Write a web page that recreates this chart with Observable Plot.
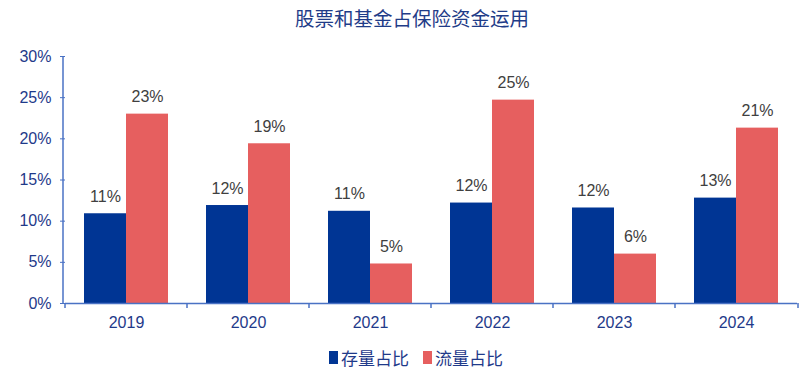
<!DOCTYPE html>
<html><head><meta charset="utf-8">
<script src="https://cdn.jsdelivr.net/npm/d3@7"></script>
<script src="https://cdn.jsdelivr.net/npm/@observablehq/plot@0.6"></script>
<style>
body{margin:0;background:#fff;}
#wrap{width:806px;height:378px;position:relative;overflow:hidden;background:#fff;}
#title{height:36px;line-height:36px;text-align:center;padding-left:18px;font-family:"Noto Sans CJK SC",sans-serif;font-size:19.5px;color:#1f3c88;}
#legend{height:42px;display:flex;justify-content:center;align-items:center;padding-left:26px;font-family:"Noto Sans CJK SC",sans-serif;font-size:17px;color:#1f3a8a;}
#legend .item{display:flex;align-items:center;margin:0 7px;}
#legend .sw{width:9px;height:13px;margin-right:3px;}
</style></head>
<body>
<div id="wrap">
<div id="title">股票和基金占保险资金运用</div>
<div id="chart"></div>
<div id="legend"></div>
</div>
<script>
const years = ["2019", "2020", "2021", "2022", "2023", "2024"];
const series = ["存量占比", "流量占比"];
const stock = [10.9, 11.9, 11.2, 12.2, 11.6, 12.8];
const flow = [23.0, 19.4, 4.8, 24.7, 6.0, 21.3];
const colors = ["#003594", "#e65f5f"];
const yTicks = [0, 5, 10, 15, 20, 25, 30];

const data = years.flatMap((y, i) => [
  {year: y, series: series[0], value: stock[i]},
  {year: y, series: series[1], value: flow[i]}
]);

const axisBlue = "#4a72c4";
const textBlue = "#1f3a8a";
const latin = '"Liberation Sans", Arial, sans-serif';

const plot = Plot.plot({
  width: 806, height: 300,
  marginTop: 20, marginBottom: 33, marginLeft: 63, marginRight: 8,
  style: {fontFamily: latin, fontSize: "16px", background: "white", color: textBlue},
  fx: {domain: years, paddingInner: 0, paddingOuter: 0, label: null, axis: null},
  x: {domain: series, paddingInner: 0, paddingOuter: 0.42, axis: null},
  y: {domain: [0, 30], axis: null},
  color: {domain: series, range: colors},
  marks: [
    Plot.barY(data, {fx: "year", x: "series", y: "value", fill: "series"}),
    Plot.text(data, {fx: "year", x: "series", y: "value", text: d => Math.round(d.value) + "%",
      dy: -17, fill: "#404040", fontSize: 16, fontFamily: latin}),
    Plot.axisY({ticks: yTicks, tickFormat: d => d + "%", tickSize: 5, tickPadding: 9, color: textBlue, fontSize: 16, label: null}),
    Plot.axisFx({anchor: "bottom", domain: years, tickSize: 0, tickPadding: 13, color: textBlue, fontSize: 16, label: null}),
    Plot.ruleY([0], {stroke: axisBlue, strokeWidth: 1.5})
  ]
});
document.getElementById("chart").appendChild(plot);

// axis line and group-boundary ticks from the library's scales
const fx = plot.scale("fx"), y = plot.scale("y");
const svg = d3.select(plot);
const x0 = fx.range[0], x1 = fx.range[1];
const g = svg.append("g").attr("stroke", axisBlue).attr("stroke-width", 1.5);
g.append("line").attr("x1", x0).attr("x2", x0).attr("y1", y.apply(30)).attr("y2", y.apply(0));
const bounds = years.map(v => fx.apply(v)).concat([x1]);
bounds.forEach(b => g.append("line").attr("x1", b).attr("x2", b).attr("y1", y.apply(0)).attr("y2", y.apply(0) + 5));
svg.selectAll("[aria-label='y-axis tick'] path").attr("stroke", axisBlue);

// legend
const leg = d3.select("#legend");
series.forEach((s, i) => {
  const it = leg.append("div").attr("class", "item");
  it.append("div").attr("class", "sw").style("background", colors[i]);
  it.append("span").text(s);
});
</script>
</body></html>
